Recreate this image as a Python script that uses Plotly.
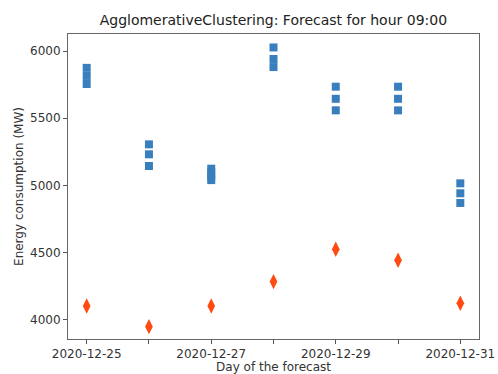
import plotly.graph_objects as go

days = ["2020-12-25", "2020-12-26", "2020-12-27", "2020-12-28", "2020-12-29", "2020-12-30", "2020-12-31"]
cluster_vals = [
    [5875, 5815, 5755],
    [5306, 5232, 5145],
    [5125, 5095, 5065, 5040],
    [6027, 5941, 5881],
    [5735, 5645, 5559],
    [5735, 5645, 5559],
    [5016, 4942, 4870],
]
actual_vals = [4104, 3950, 4104, 4285, 4526, 4444, 4124]
tick_labels = ["2020-12-25", "", "2020-12-27", "", "2020-12-29", "", "2020-12-31"]
y_ticks = [4000, 4500, 5000, 5500, 6000]

cx, cy = [], []
for d, vals in zip(days, cluster_vals):
    for v in vals:
        cx.append(d)
        cy.append(v)

fig = go.Figure()
fig.add_trace(go.Scatter(x=cx, y=cy, mode="markers",
                         marker=dict(symbol="square", size=8, color="#3a7fbd"),
                         showlegend=False))
fig.add_trace(go.Scatter(x=days, y=actual_vals, mode="markers",
                         marker=dict(symbol="diamond-tall", size=11, color="#ff4a10"),
                         showlegend=False))

axis_common = dict(showgrid=False, zeroline=False, showline=True, mirror=True,
                   linecolor="#666666", linewidth=1, ticks="outside", ticklen=4,
                   tickcolor="#555555", automargin=False,
                   tickfont=dict(family="DejaVu Sans", size=12, color="#333333"))

fig.update_layout(
    width=498, height=374,
    margin=dict(l=68, r=19, t=34, b=35),
    paper_bgcolor="white", plot_bgcolor="white",
    title=dict(text="AgglomerativeClustering: Forecast for hour 09:00",
               x=0.549, xanchor="center", y=0.947, yanchor="middle",
               font=dict(family="DejaVu Sans", size=14, color="#222222")),
    xaxis=dict(type="date", range=["2020-12-24 16:48", "2020-12-31 07:12"],
               tickvals=days, ticktext=tick_labels,
               title=dict(text="Day of the forecast", standoff=1,
                          font=dict(family="DejaVu Sans", size=12, color="#333333")),
               **axis_common),
    yaxis=dict(range=[3858, 6127], tickvals=y_ticks,
               ticktext=[str(v) for v in y_ticks],
               title=dict(text="Energy consumption (MW)", standoff=3,
                          font=dict(family="DejaVu Sans", size=12, color="#333333")),
               **axis_common),
)

fig.write_html("out.html")
